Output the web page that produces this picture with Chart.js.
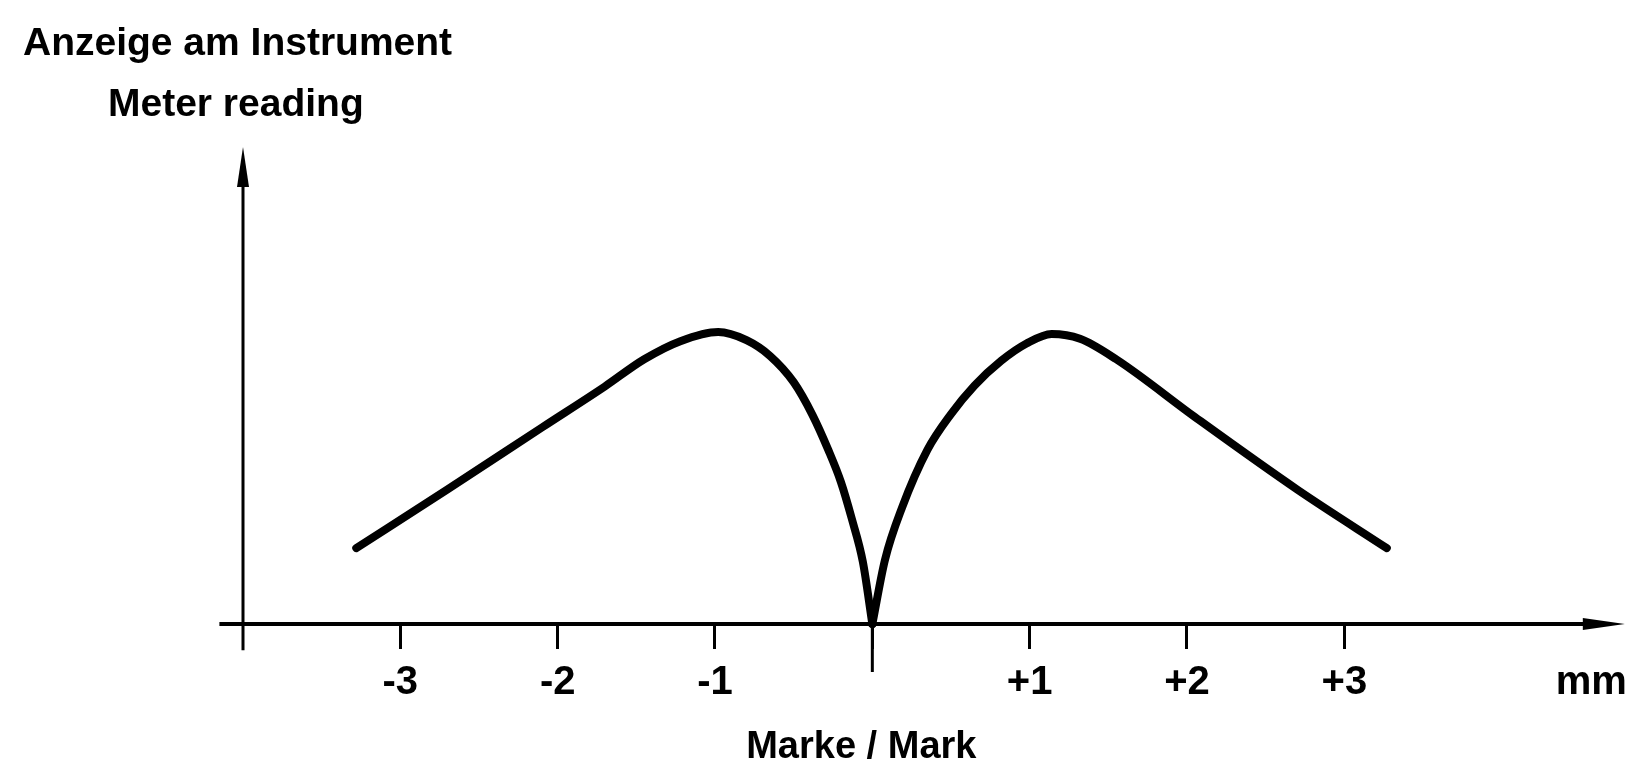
<!DOCTYPE html>
<html>
<head>
<meta charset="utf-8">
<script src="https://cdn.jsdelivr.net/npm/chart.js@4/dist/chart.umd.min.js"></script>
<style>
  body { margin: 0; background: #fff; }
  #wrap { width: 1637px; height: 771px; }
</style>
</head>
<body>
<div id="wrap"><canvas id="kurve" width="1637" height="771"></canvas></div>
<script>
// Anzeige am Instrument ueber der Position zur Marke (mm)
const positionMm = [-3.28, -2.70, -2.10, -1.70, -1.45, -1.22, -0.98, -0.80, -0.65, -0.50, -0.38, -0.28, -0.20, -0.13, -0.06, 0,
                    0.08, 0.19, 0.35, 0.50, 0.65, 0.82, 0.98, 1.14, 1.32, 1.55, 2.05, 2.70, 3.27];
const reading = [1.59, 2.82, 4.12, 4.98, 5.55, 5.93, 6.12, 5.95, 5.62, 5.07, 4.38, 3.65, 2.98, 2.20, 1.30, 0,
                 1.34, 2.45, 3.65, 4.40, 5.00, 5.52, 5.88, 6.08, 5.98, 5.55, 4.34, 2.82, 1.59];

// Achsbeschriftung unten
const tickValues = [-3, -2, -1, 0, 1, 2, 3, 4.57];
const tickLabels = ['-3', '-2', '-1', '', '+1', '+2', '+3', 'mm'];

const FONT = '"Liberation Sans", Arial, sans-serif';

// linker und rechter Ast getrennt, damit die Spitze bei 0 scharf bleibt
const pts = positionMm.map((x, i) => ({ x: x, y: reading[i] }));
const links = pts.filter(p => p.x <= 0);
const rechts = pts.filter(p => p.x >= 0);

const kurvenStil = {
  borderColor: '#000',
  borderWidth: 8,
  borderCapStyle: 'round',
  borderJoinStyle: 'round',
  pointRadius: 0,
  cubicInterpolationMode: 'monotone',
  clip: false
};

// Achsen mit Pfeilen, langer Strich bei 0 und Beschriftungen
const achsen = {
  id: 'achsen',
  afterDraw(chart) {
    const ctx = chart.ctx;
    const x = chart.scales.x, y = chart.scales.y;
    const x0 = x.getPixelForValue(x.min);
    const y0 = y.getPixelForValue(0);
    const yTop = y.getPixelForValue(y.max);
    const xEnd = x.getPixelForValue(x.max);
    ctx.save();
    ctx.strokeStyle = '#000';
    ctx.fillStyle = '#000';
    ctx.lineCap = 'butt';

    // y-Achse
    ctx.lineWidth = 3;
    ctx.beginPath();
    ctx.moveTo(x0, y.getPixelForValue(-0.55));
    ctx.lineTo(x0, yTop + 20);
    ctx.stroke();
    ctx.beginPath();
    ctx.moveTo(x0, yTop);
    ctx.lineTo(x0 - 6, yTop + 40);
    ctx.lineTo(x0 + 6, yTop + 40);
    ctx.closePath();
    ctx.fill();

    // x-Achse
    ctx.lineWidth = 4;
    ctx.beginPath();
    ctx.moveTo(x.getPixelForValue(-4.15), y0);
    ctx.lineTo(xEnd - 20, y0);
    ctx.stroke();
    ctx.beginPath();
    ctx.moveTo(xEnd + 2, y0);
    ctx.lineTo(xEnd - 40, y0 - 6);
    ctx.lineTo(xEnd - 40, y0 + 6);
    ctx.closePath();
    ctx.fill();

    // Marke bei 0
    const xm = x.getPixelForValue(0);
    ctx.lineWidth = 3;
    ctx.beginPath();
    ctx.moveTo(xm, y0);
    ctx.lineTo(xm, y0 + 48);
    ctx.stroke();

    ctx.textBaseline = 'alphabetic';
    ctx.font = 'bold 39px ' + FONT;
    ctx.textAlign = 'left';
    ctx.fillText('Anzeige am Instrument', 23, 55);
    ctx.fillText('Meter reading', 108, 116);
    ctx.font = 'bold 38px ' + FONT;
    ctx.textAlign = 'center';
    ctx.fillText('Marke / Mark', x.getPixelForValue(-0.07), 758);
    ctx.restore();
  }
};

new Chart(document.getElementById('kurve'), {
  type: 'line',
  data: {
    datasets: [
      Object.assign({ data: links }, kurvenStil),
      Object.assign({ data: rechts }, kurvenStil)
    ]
  },
  options: {
    responsive: false,
    animation: false,
    devicePixelRatio: 1,
    layout: { padding: { left: 243, right: 4, top: 147, bottom: 0 } },
    plugins: { legend: { display: false }, tooltip: { enabled: false } },
    scales: {
      x: {
        type: 'linear',
        min: -4,
        max: 4.77,
        afterBuildTicks: s => { s.ticks = tickValues.map(v => ({ value: v })); },
        afterFit: s => { s.height = 147; },
        border: { display: false },
        grid: {
          drawOnChartArea: false,
          tickLength: 25,
          tickWidth: 3,
          tickColor: c => (c.tick && c.tick.value > 3.5) ? 'rgba(0,0,0,0)' : '#000'
        },
        ticks: {
          autoSkip: false,
          maxRotation: 0,
          padding: 10,
          color: '#000',
          font: { family: FONT, size: 40, weight: 'bold' },
          callback: (v, i) => tickLabels[i]
        }
      },
      y: {
        display: false,
        min: 0,
        max: 10
      }
    }
  },
  plugins: [achsen]
});
</script>
</body>
</html>
